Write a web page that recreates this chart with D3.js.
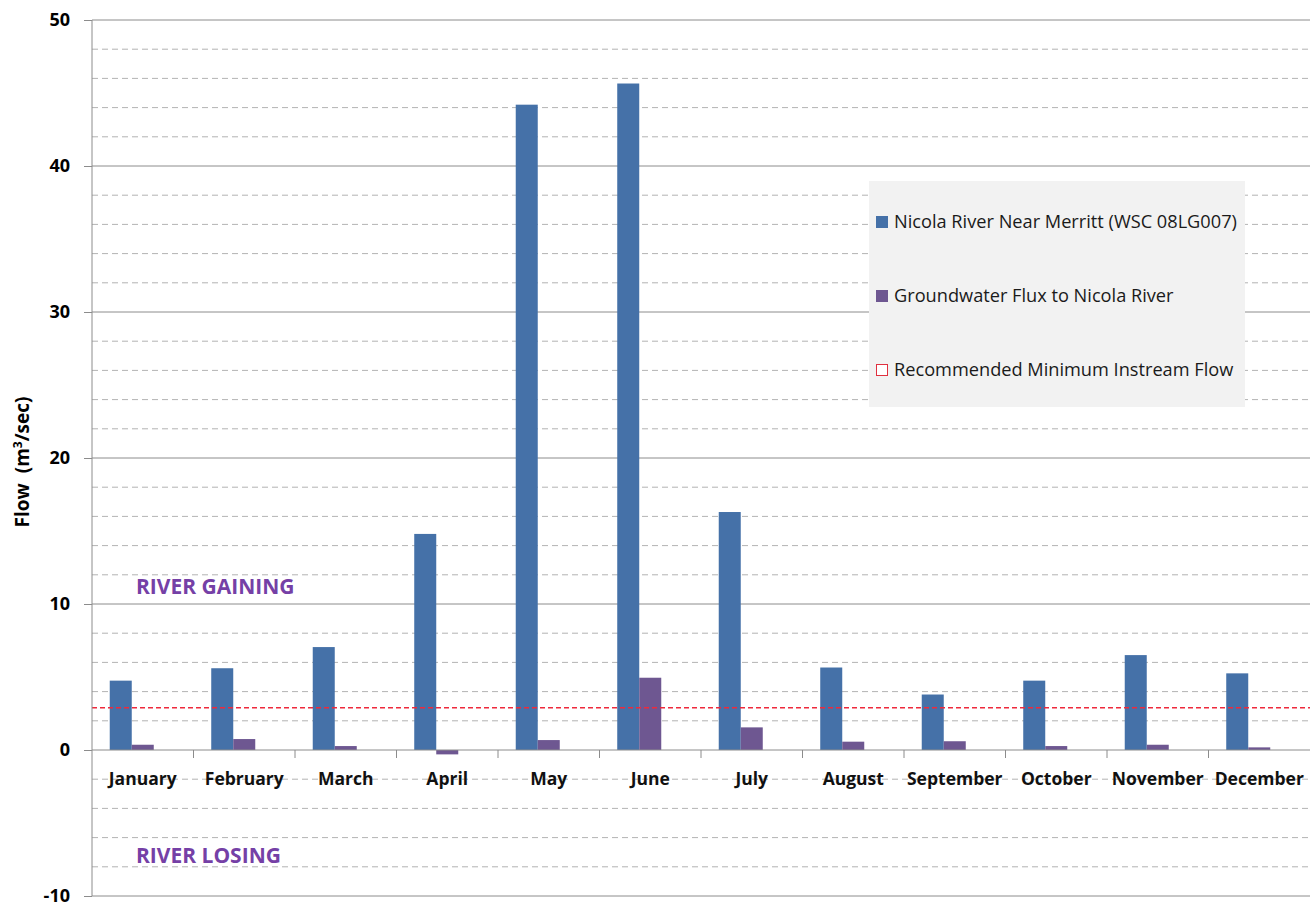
<!DOCTYPE html>
<html>
<head>
<meta charset="utf-8">
<script src="https://cdn.jsdelivr.net/npm/d3@7"></script>
<style>
  html, body { margin: 0; padding: 0; background: #fff; }
  svg { display: block; }
</style>
</head>
<body>
<svg id="chart" width="1310" height="903"></svg>
<script>
// Monthly flows, m³/sec
const months = ["January","February","March","April","May","June","July","August","September","October","November","December"];
const riverFlow = [4.75, 5.6, 7.05, 14.8, 44.2, 45.65, 16.3, 5.65, 3.8, 4.75, 6.5, 5.25];
const groundwaterFlux = [0.36, 0.75, 0.27, -0.3, 0.68, 4.95, 1.55, 0.57, 0.6, 0.27, 0.36, 0.18];
const minInstreamFlow = 2.9;
const seriesNames = [
  "Nicola River Near Merritt (WSC 08LG007)",
  "Groundwater Flux to Nicola River",
  "Recommended Minimum Instream Flow"
];
const majorTicks = [-10, 0, 10, 20, 30, 40, 50];
const minorTicks = [-8, -6, -4, -2, 2, 4, 6, 8, 12, 14, 16, 18, 22, 24, 26, 28, 32, 34, 36, 38, 42, 44, 46, 48];

const svg = d3.select("#chart");
const plotLeft = 92, plotRight = 1310, plotTop = 20, plotBottom = 896;
const font = "'Open Sans', Lato, sans-serif";

const y = d3.scaleLinear().domain([-10, 50]).range([plotBottom, plotTop]);
const x = d3.scaleBand().domain(months).range([plotLeft, plotRight]).padding(0);
const inner = d3.scaleBand().domain([0, 1, 2]).range([0, x.bandwidth()])
  .paddingInner(0).paddingOuter(0.806);

// minor dashed gridlines
svg.append("g").selectAll("line").data(minorTicks).join("line")
  .attr("x1", plotLeft).attr("x2", plotRight)
  .attr("y1", d => y(d)).attr("y2", d => y(d))
  .attr("stroke", "#b3b3b3").attr("stroke-width", 1)
  .attr("stroke-dasharray", "6,4");

// major solid gridlines
svg.append("g").selectAll("line").data(majorTicks.filter(d => d !== 0)).join("line")
  .attr("x1", plotLeft).attr("x2", plotRight)
  .attr("y1", d => y(d)).attr("y2", d => y(d))
  .attr("stroke", "#8c8c8c").attr("stroke-width", 1);

// region annotations
svg.append("text").attr("x", 136).attr("y", y(10) - 10)
  .attr("font-family", font).attr("font-weight", "bold").attr("font-size", 21)
  .attr("fill", "#7540a6").text("RIVER GAINING");
svg.append("text").attr("x", 136).attr("y", y(-8) - 4)
  .attr("font-family", font).attr("font-weight", "bold").attr("font-size", 21)
  .attr("fill", "#7540a6").text("RIVER LOSING");

// bars
const groups = svg.append("g").selectAll("g").data(months).join("g")
  .attr("transform", d => `translate(${x(d)},0)`);
groups.append("rect")
  .attr("x", inner(0)).attr("width", inner.bandwidth())
  .attr("y", (d, i) => y(Math.max(0, riverFlow[i])))
  .attr("height", (d, i) => Math.abs(y(riverFlow[i]) - y(0)))
  .attr("fill", "#4571a8");
groups.append("rect")
  .attr("x", inner(1)).attr("width", inner.bandwidth())
  .attr("y", (d, i) => y(Math.max(0, groundwaterFlux[i])))
  .attr("height", (d, i) => Math.abs(y(groundwaterFlux[i]) - y(0)))
  .attr("fill", "#6e5791");

// recommended minimum flow line
svg.append("line")
  .attr("x1", plotLeft).attr("x2", plotRight)
  .attr("y1", y(minInstreamFlow)).attr("y2", y(minInstreamFlow))
  .attr("stroke", "#ee2a3c").attr("stroke-width", 1.5)
  .attr("stroke-dasharray", "5,3");

// y axis
const yAxis = svg.append("g").attr("transform", `translate(${plotLeft},0)`)
  .call(d3.axisLeft(y).tickValues(majorTicks).tickSize(8).tickPadding(14).tickFormat(d => String(d)));
yAxis.select(".domain").attr("stroke", "#8c8c8c").attr("d", `M0,${plotTop}V${plotBottom}`);
yAxis.selectAll(".tick line").attr("stroke", "#8c8c8c");
yAxis.selectAll(".tick text").attr("font-family", font).attr("font-weight", "bold")
  .attr("font-size", 18).attr("fill", "#000");

// x axis at zero
const xAxis = svg.append("g").attr("transform", `translate(0,${y(0)})`)
  .call(d3.axisBottom(x).tickSize(0).tickPadding(23));
xAxis.select(".domain").attr("stroke", "#8c8c8c").attr("d", `M${plotLeft},0H${plotRight}`);
xAxis.selectAll(".tick text").attr("font-family", font).attr("font-weight", "bold")
  .attr("font-size", 17.5).attr("fill", "#111");
// category boundary ticks
svg.append("g").selectAll("line").data(months.slice(1)).join("line")
  .attr("x1", d => x(d)).attr("x2", d => x(d))
  .attr("y1", y(0)).attr("y2", y(0) + 8)
  .attr("stroke", "#8c8c8c");

// y axis title
const title = svg.append("text")
  .attr("transform", `translate(29,462) rotate(-90)`)
  .attr("text-anchor", "middle")
  .style("white-space", "pre")
  .attr("font-family", font).attr("font-weight", "bold").attr("font-size", 19).attr("fill", "#000");
title.append("tspan").text("Flow  (m");
title.append("tspan").attr("font-size", 12).attr("dy", -7).text("3");
title.append("tspan").attr("dy", 7).text("/sec)");

// legend
const legend = svg.append("g").attr("transform", "translate(869,181)");
legend.append("rect").attr("width", 376).attr("height", 226).attr("fill", "#f2f2f2");
const items = legend.selectAll("g").data(seriesNames).join("g")
  .attr("transform", (d, i) => `translate(7,${41 + i * 74})`);
items.append("rect")
  .attr("x", (d, i) => i === 2 ? 0.5 : 0).attr("y", (d, i) => i === 2 ? -5.5 : -6)
  .attr("width", (d, i) => i === 2 ? 11 : 12).attr("height", (d, i) => i === 2 ? 11 : 12)
  .attr("fill", (d, i) => ["#4571a8", "#6e5791", "#ffffff"][i])
  .attr("stroke", (d, i) => i === 2 ? "#e0303f" : "none");
items.append("text").attr("x", 18).attr("y", 0).attr("dy", "0.35em")
  .attr("font-family", font).attr("font-size", 18.2).attr("fill", "#1a1a1a")
  .text(d => d);
</script>
</body>
</html>
